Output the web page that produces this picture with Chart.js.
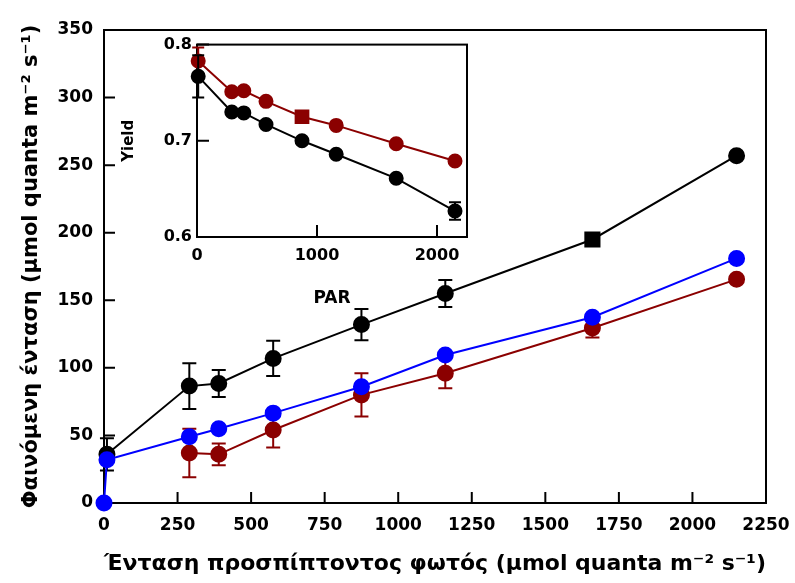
<!DOCTYPE html>
<html>
<head>
<meta charset="utf-8">
<script src="https://cdn.jsdelivr.net/npm/chart.js@4.4.1/dist/chart.umd.min.js"></script>
<style>
  html, body { margin: 0; padding: 0; background: #fff; }
  #wrap { position: relative; width: 795px; height: 583px; }
  #main { position: absolute; left: 0; top: 0; }
  #inset { position: absolute; left: 110px; top: 30px; }
</style>
</head>
<body>
<div id="wrap">
  <canvas id="main" width="795" height="583"></canvas>
  <canvas id="inset" width="368" height="290"></canvas>
</div>
<script>
// main panel: apparent intensity vs incident PAR
const parBlue = [0, 10, 290, 390, 575, 875, 1160, 1660, 2150];
const blueVals = [0, 32, 49, 55, 66.5, 86, 109.5, 137.5, 181];

const parBlack = [10, 290, 390, 575, 875, 1160, 1660, 2150];
const blackVals = [36, 86.5, 88.5, 107, 132, 155, 195, 257];
const blackErr = [12, 17, 10, 13, 11.5, 10, 0, 0];

const parRed = [290, 390, 575, 875, 1160, 1660, 2150];
const redVals = [37, 36, 54, 80, 96, 129.5, 165.5];
const redErr = [18, 8, 13, 16, 11, 7, 0];

const mainXTicks = [0, 250, 500, 750, 1000, 1250, 1500, 1750, 2000, 2250];
const mainYTicks = [0, 50, 100, 150, 200, 250, 300, 350];

// inset: yield vs PAR
const parInset = [10, 290, 390, 575, 875, 1160, 1660, 2150];
const yieldBlack = [0.767, 0.730, 0.729, 0.717, 0.700, 0.686, 0.661, 0.627];
const yieldBlackErr = [0.022, 0, 0, 0, 0, 0, 0, 0.009];
const yieldRed = [0.783, 0.751, 0.752, 0.741, 0.725, 0.716, 0.697, 0.679];
const yieldRedErr = [0.014, 0, 0, 0, 0, 0, 0, 0];

const insetXTicks = [0, 1000, 2000];
const insetYTicks = [0.6, 0.7, 0.8];

const xTitle = 'Ένταση προσπίπτοντος φωτός (μmol quanta m⁻² s⁻¹)';
const yTitle = 'Φαινόμενη ένταση (μmol quanta m⁻² s⁻¹)';

const BLUE = '#0000ff';
const RED = '#8b0000';
const BLACK = '#000000';
const FONT = "'DejaVu Sans', Verdana, sans-serif";

function _pts(xs, ys) {
  return xs.map((x, i) => ({ x, y: ys[i] }));
}

function _fixTicks(list) {
  return s => { s.ticks = list.map(v => ({ value: v })); };
}

// frame round the plot area + ticks pointing inwards
const frameTicks = {
  id: 'frameTicks',
  beforeDatasetsDraw(chart, args, opts) {
    const { ctx, chartArea: a, scales: { x, y } } = chart;
    ctx.save();
    ctx.strokeStyle = BLACK;
    ctx.lineWidth = 2;
    ctx.strokeRect(a.left, a.top, a.right - a.left, a.bottom - a.top);
    ctx.beginPath();
    x.ticks.forEach(t => {
      const px = x.getPixelForValue(t.value);
      ctx.moveTo(px, a.bottom);
      ctx.lineTo(px, a.bottom - opts.len);
    });
    y.ticks.forEach(t => {
      const py = y.getPixelForValue(t.value);
      ctx.moveTo(a.left, py);
      ctx.lineTo(a.left + opts.len, py);
    });
    ctx.stroke();
    ctx.restore();
  }
};

// vertical error bars, drawn just before each dataset so markers sit on top
const errorBars = {
  id: 'errorBars',
  beforeDatasetDraw(chart, args, opts) {
    const ds = chart.data.datasets[args.index];
    if (!ds.errors) return;
    const { ctx, scales: { x, y } } = chart;
    ctx.save();
    ctx.strokeStyle = ds.borderColor;
    ctx.lineWidth = 2;
    ctx.beginPath();
    ds.data.forEach((p, i) => {
      const e = ds.errors[i];
      if (!e) return;
      const px = x.getPixelForValue(p.x);
      const t = y.getPixelForValue(p.y + e);
      const b = y.getPixelForValue(p.y - e);
      ctx.moveTo(px, t); ctx.lineTo(px, b);
      ctx.moveTo(px - opts.cap, t); ctx.lineTo(px + opts.cap, t);
      ctx.moveTo(px - opts.cap, b); ctx.lineTo(px + opts.cap, b);
    });
    ctx.stroke();
    ctx.restore();
  }
};

function _series(label, xs, ys, color, errs, radius, styles, radii) {
  return {
    label,
    data: _pts(xs, ys),
    errors: errs,
    borderColor: color,
    backgroundColor: color,
    pointBackgroundColor: color,
    pointBorderColor: color,
    borderWidth: 2,
    pointRadius: radii || radius,
    pointStyle: styles || 'circle',
    showLine: true,
    clip: false
  };
}

const mainStyles = parBlack.map(v => v === 1660 ? 'rect' : 'circle');
const mainRadii = parBlack.map(v => v === 1660 ? 10 : 7.5);

new Chart(document.getElementById('main').getContext('2d'), {
  type: 'scatter',
  data: {
    datasets: [
      _series('blue', parBlue, blueVals, BLUE, null, 7.5),
      _series('black', parBlack, blackVals, BLACK, blackErr, 7.5, mainStyles, mainRadii),
      _series('red', parRed, redVals, RED, redErr, 7.5)
    ]
  },
  options: {
    responsive: false,
    animation: false,
    devicePixelRatio: 1,
    layout: { padding: { top: 30, right: 29, left: 0, bottom: 0 } },
    plugins: {
      legend: { display: false },
      tooltip: { enabled: false },
      frameTicks: { len: 11 },
      errorBars: { cap: 7 }
    },
    scales: {
      x: {
        type: 'linear', min: 0, max: 2250,
        grid: { display: false, drawTicks: false },
        border: { display: false },
        afterBuildTicks: _fixTicks(mainXTicks),
        ticks: { autoSkip: false, maxRotation: 0, color: BLACK, padding: 12, callback: v => String(v), font: { family: FONT, size: 17, weight: 'bold' } },
        title: { display: true, text: xTitle, color: BLACK, padding: { top: 0, bottom: 6 }, font: { family: FONT, size: 22, weight: 'bold' } },
        afterFit(s) { s.height = 80; s.paddingLeft = 0; s.paddingRight = 0; }
      },
      y: {
        type: 'linear', min: 0, max: 350,
        grid: { display: false, drawTicks: false },
        border: { display: false },
        afterBuildTicks: _fixTicks(mainYTicks),
        ticks: { autoSkip: false, color: BLACK, padding: 11, callback: v => String(v), font: { family: FONT, size: 17, weight: 'bold' } },
        title: { display: true, text: yTitle, color: BLACK, padding: { top: 19, bottom: 0 }, font: { family: FONT, size: 21, weight: 'bold' } },
        afterFit(s) { s.width = 104; }
      }
    }
  },
  plugins: [frameTicks, errorBars]
});

const insetStyles = parInset.map(v => v === 875 ? 'rect' : 'circle');
const insetRadii = parInset.map(v => v === 875 ? 9 : 6.5);

new Chart(document.getElementById('inset').getContext('2d'), {
  type: 'scatter',
  data: {
    datasets: [
      _series('yield black', parInset, yieldBlack, BLACK, yieldBlackErr, 6.5),
      _series('yield red', parInset, yieldRed, RED, yieldRedErr, 6.5, insetStyles, insetRadii)
    ]
  },
  options: {
    responsive: false,
    animation: false,
    devicePixelRatio: 1,
    layout: { padding: { top: 14, right: 11, left: 0, bottom: 0 } },
    plugins: {
      legend: { display: false },
      tooltip: { enabled: false },
      frameTicks: { len: 12 },
      errorBars: { cap: 6 }
    },
    scales: {
      x: {
        type: 'linear', min: 0, max: 2250,
        grid: { display: false, drawTicks: false },
        border: { display: false },
        afterBuildTicks: _fixTicks(insetXTicks),
        ticks: { autoSkip: false, maxRotation: 0, color: BLACK, padding: 9, callback: v => String(v), font: { family: FONT, size: 16, weight: 'bold' } },
        title: { display: true, text: 'PAR', color: BLACK, padding: { top: 0, bottom: 11 }, font: { family: FONT, size: 17, weight: 'bold' } },
        afterFit(s) { s.height = 83; s.paddingLeft = 0; s.paddingRight = 0; }
      },
      y: {
        type: 'linear', min: 0.6, max: 0.8,
        grid: { display: false, drawTicks: false },
        border: { display: false },
        afterBuildTicks: _fixTicks(insetYTicks),
        ticks: { autoSkip: false, color: BLACK, padding: 5, callback: v => Number(v).toFixed(1), font: { family: FONT, size: 16, weight: 'bold' } },
        title: { display: true, text: 'Yield', color: BLACK, padding: { top: 10, bottom: 0 }, font: { family: FONT, size: 15, weight: 'bold' } },
        afterFit(s) { s.width = 87; }
      }
    }
  },
  plugins: [frameTicks, errorBars]
});
</script>
</body>
</html>
